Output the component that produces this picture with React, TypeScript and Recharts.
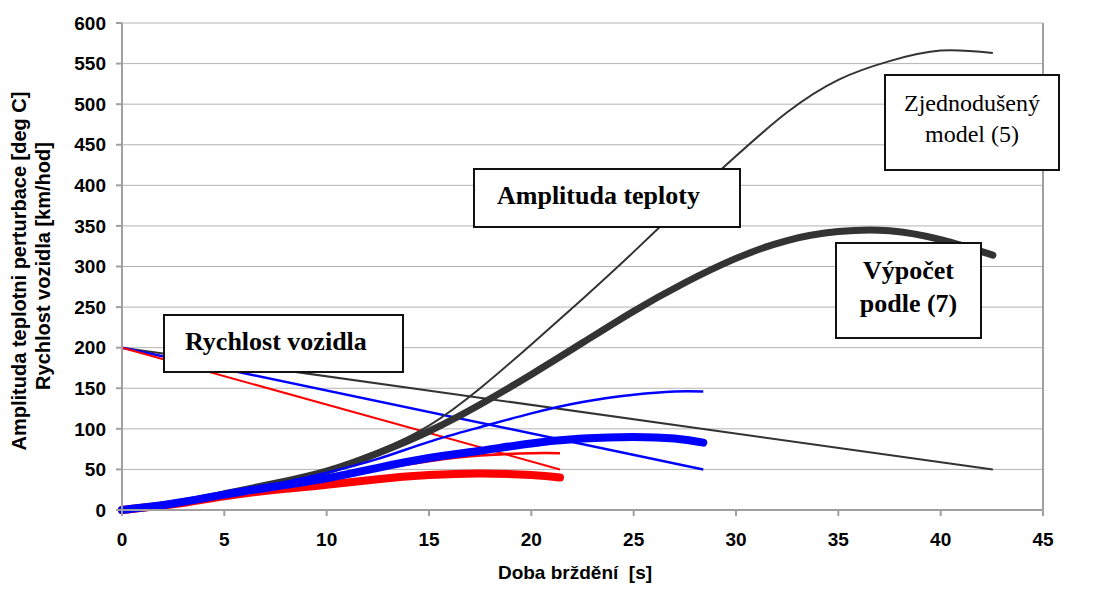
import { CartesianGrid, Line, LineChart, ReferenceLine, XAxis, YAxis } from "recharts";

// braking time [s] for the three scenarios
const blackTime = [0, 2.5, 5, 7.5, 10, 12.5, 15, 17.5, 20, 22.5, 25, 27.5, 30, 32.5, 35, 37.5, 40, 42.55];
const blueTime = [0, 2.5, 5, 7.5, 10, 12.5, 15, 17.5, 20, 22.5, 25, 27, 28.4];
const redTime = [0, 2.5, 5, 7.5, 10, 12.5, 15, 17.5, 20, 21.4];

// temperature amplitude, simplified model (5)
const blackModel5 = [0, 8, 20, 33, 50, 73, 104, 150, 204, 260, 318, 378, 436, 490, 530, 553, 566, 563];
const blueModel5 = [0, 8, 20, 32, 46, 63, 84, 102, 119, 133, 142, 146, 146];
const redModel5 = [0, 8, 19, 29, 39, 50, 60, 67, 70, 70];

// temperature amplitude, computed by (7)
const blackModel7 = [0, 8, 20, 33, 48, 70, 97, 130, 167, 206, 245, 280, 310, 332, 343, 344, 333, 314];
const blueModel7 = [0, 8, 19, 29, 39, 52, 64, 73, 82, 88, 90, 88, 83];
const redModel7 = [0, 7, 17, 25, 31, 38, 43, 45, 43, 40];

// vehicle speed [km/h], start and end of braking
const speedValues = [200, 50];
const blackSpeedTime = [0, 42.55];
const blueSpeedTime = [0, 28.4];
const redSpeedTime = [0, 21.4];

const xTicks = [0, 5, 10, 15, 20, 25, 30, 35, 40, 45];
const yTicks = [0, 50, 100, 150, 200, 250, 300, 350, 400, 450, 500, 550, 600];

const toPoints = (times: number[], values: number[]) =>
  times.map((t, i) => ({ t, v: values[i] }));

const sans = "'Liberation Sans', Arial, sans-serif";
const serif = "'Liberation Serif', 'Times New Roman', serif";

const boxStyle = (left: number, top: number, width: number, height: number): React.CSSProperties => ({
  position: "absolute",
  left,
  top,
  width,
  height,
  boxSizing: "border-box",
  border: "2px solid #111",
  background: "white",
  fontFamily: serif,
  color: "black",
  whiteSpace: "nowrap",
});

const yTitle: React.CSSProperties = {
  position: "absolute",
  width: 450,
  height: 24,
  lineHeight: "24px",
  textAlign: "center",
  transform: "rotate(-90deg)",
  fontFamily: sans,
  fontWeight: "bold",
  fontSize: 20,
};

const App = () => {
  const tick = { fill: "black", fontSize: 19, fontWeight: "bold", fontFamily: sans };

  return (
    <div style={{ position: "absolute", left: 0, top: 0, width: 1098, height: 592, background: "white" }}>
      <LineChart width={1098} height={592} margin={{ top: 23, right: 55, bottom: 0, left: 0 }}>
        <CartesianGrid vertical={false} stroke="#b4b4b4" />
        <XAxis
          type="number"
          dataKey="t"
          domain={[0, 45]}
          ticks={xTicks}
          height={82}
          stroke="#a0a0a0"
          strokeWidth={2}
          tick={tick}
          tickSize={6}
          tickMargin={17}
          allowDuplicatedCategory={false}
        />
        <YAxis
          type="number"
          dataKey="v"
          domain={[0, 600]}
          ticks={yTicks}
          width={122}
          stroke="#a0a0a0"
          strokeWidth={2}
          tick={tick}
          tickSize={6}
          tickMargin={10}
        />
        <ReferenceLine x={45} stroke="#a0a0a0" strokeWidth={2} />

        <Line data={toPoints(blackSpeedTime, speedValues)} dataKey="v" type="linear" stroke="#333333" strokeWidth={2} dot={false} isAnimationActive={false} />
        <Line data={toPoints(blueSpeedTime, speedValues)} dataKey="v" type="linear" stroke="#0000ff" strokeWidth={2.5} dot={false} isAnimationActive={false} />
        <Line data={toPoints(redSpeedTime, speedValues)} dataKey="v" type="linear" stroke="#ff0000" strokeWidth={2} dot={false} isAnimationActive={false} />

        <Line data={toPoints(blackTime, blackModel5)} dataKey="v" type="natural" stroke="#333333" strokeWidth={2} dot={false} isAnimationActive={false} />
        <Line data={toPoints(blackTime, blackModel7)} dataKey="v" type="natural" stroke="#333333" strokeWidth={7} strokeLinecap="round" dot={false} isAnimationActive={false} />
        <Line data={toPoints(redTime, redModel5)} dataKey="v" type="natural" stroke="#ff0000" strokeWidth={2.5} dot={false} isAnimationActive={false} />
        <Line data={toPoints(redTime, redModel7)} dataKey="v" type="natural" stroke="#ff0000" strokeWidth={8} strokeLinecap="round" dot={false} isAnimationActive={false} />
        <Line data={toPoints(blueTime, blueModel5)} dataKey="v" type="natural" stroke="#0000ff" strokeWidth={2.5} dot={false} isAnimationActive={false} />
        <Line data={toPoints(blueTime, blueModel7)} dataKey="v" type="natural" stroke="#0000ff" strokeWidth={8} strokeLinecap="round" dot={false} isAnimationActive={false} />
      </LineChart>

      {/* y axis title, two lines */}
      <div style={{ ...yTitle, left: 19 - 225, top: 271 - 12 }}>Amplituda teplotni perturbace [deg C]</div>
      <div style={{ ...yTitle, left: 43 - 225, top: 266 - 12 }}>Rychlost vozidla [km/hod]</div>

      {/* x axis title */}
      <div style={{ position: "absolute", left: 375, top: 562, width: 400, textAlign: "center", whiteSpace: "pre", fontFamily: sans, fontWeight: "bold", fontSize: 19 }}>
        {"Doba brždění  [s]"}
      </div>

      {/* annotation boxes */}
      <div style={{ ...boxStyle(163, 314, 241, 59), fontWeight: "bold", fontSize: 26, lineHeight: "30px", paddingLeft: 20, paddingTop: 11 }}>
        Rychlost vozidla
      </div>
      <div style={{ ...boxStyle(473, 168, 268, 60), fontWeight: "bold", fontSize: 26, lineHeight: "30px", paddingLeft: 22, paddingTop: 11 }}>
        Amplituda teploty
      </div>
      <div style={{ ...boxStyle(884, 74, 176, 97), fontSize: 24, textAlign: "center", paddingTop: 12, lineHeight: "31px" }}>
        Zjednodušený
        <br />
        model (5)
      </div>
      <div style={{ ...boxStyle(835, 242, 147, 97), fontWeight: "bold", fontSize: 26, textAlign: "center", paddingTop: 10, lineHeight: "33px" }}>
        Výpočet
        <br />
        podle (7)
      </div>
    </div>
  );
};

export default App;
